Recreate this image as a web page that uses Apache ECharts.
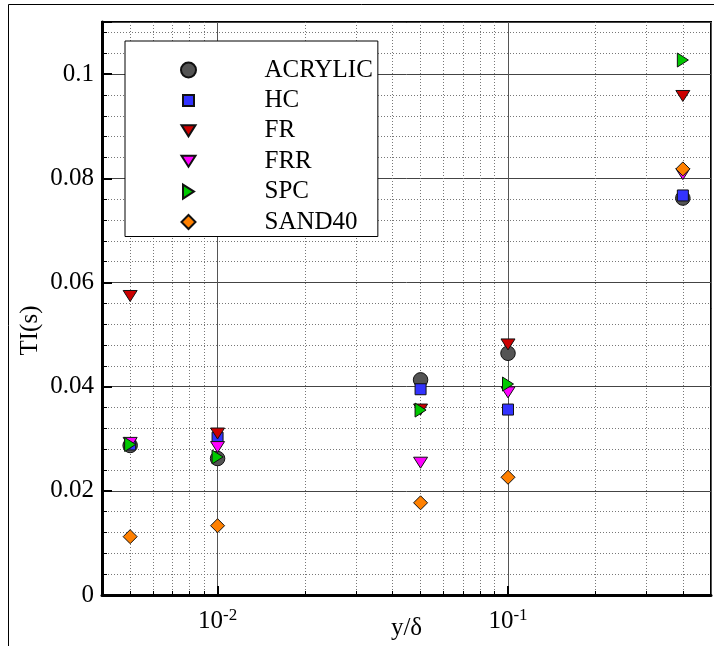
<!DOCTYPE html>
<html>
<head>
<meta charset="utf-8">
<script src="https://cdn.jsdelivr.net/npm/echarts@6/dist/echarts.min.js"></script>
<style>
  html, body { margin: 0; padding: 0; background: #fff; }
  #chart { width: 714px; height: 646px; }
</style>
</head>
<body>
<div id="chart"></div>
<script>
// Wall-normal stations y/δ (shared by every surface)
const yDelta = [0.005, 0.01, 0.05, 0.1, 0.4];

// Turbulence intensity TI(s) per surface
const acrylic = [0.0287, 0.0262, 0.0413, 0.0464, 0.0762];
const hc      = [0.0289, 0.0302, 0.0395, 0.0356, 0.0767];
const fr      = [0.0574, 0.0310, 0.0356, 0.0481, 0.0958];
const frr     = [0.0292, 0.0284, 0.0254, 0.0389, 0.0808];
const spc     = [0.0289, 0.0265, 0.0355, 0.0405, 0.1027];
const sand40  = [0.0112, 0.0133, 0.0177, 0.0226, 0.0818];

const seriesNames = ['ACRYLIC', 'HC', 'FR', 'FRR', 'SPC', 'SAND40'];

// Minor decade positions on the log axis (2..9 × 10^n)
const xMinorTicks = [0.005, 0.006, 0.007, 0.008, 0.009,
                     0.02, 0.03, 0.04, 0.05, 0.06, 0.07, 0.08, 0.09,
                     0.2, 0.3, 0.4];

const FONT = 'Liberation Serif';
const FS = 25;

// Marker shapes drawn inside a common 15×15 frame
const SYM_CIRCLE = 'circle';
const SYM_SQUARE = 'path://M0,0M15,15M2,2H13V13H2Z';
const SYM_TRI_DOWN = 'path://M0,0M15,15M0.5,2H14.5L7.5,13Z';
const SYM_TRI_RIGHT = 'path://M0,0M15,15M2,0.5L13,7.5L2,14.5Z';
const SYM_DIAMOND = 'path://M0,0M15,15M7.5,0.5L14.5,7.5L7.5,14.5L0.5,7.5Z';

const styles = {
  ACRYLIC: { symbol: SYM_CIRCLE,    color: '#545454', size: 14.5 },
  HC:      { symbol: SYM_SQUARE,    color: '#3333ff', size: 15 },
  FR:      { symbol: SYM_TRI_DOWN,  color: '#cc0000', size: 15 },
  FRR:     { symbol: SYM_TRI_DOWN,  color: '#ff00ff', size: 15 },
  SPC:     { symbol: SYM_TRI_RIGHT, color: '#00c800', size: 15 },
  SAND40:  { symbol: SYM_DIAMOND,   color: '#ff8000', size: 15 }
};

const values = { ACRYLIC: acrylic, HC: hc, FR: fr, FRR: frr, SPC: spc, SAND40: sand40 };

function powerLabel(v) {
  const e = Math.round(Math.log10(v));
  if (Math.abs(v / Math.pow(10, e) - 1) > 1e-6) return '';
  return '{b|10}{s|' + e + '}';
}

const chart = echarts.init(document.getElementById('chart'), null, { renderer: 'canvas' });

chart.setOption({
  animation: false,
  backgroundColor: '#fff',
  textStyle: { fontFamily: FONT },
  graphic: [{
    type: 'rect', z: -10, silent: true,
    shape: { x: 8.5, y: 4.5, width: 900, height: 900 },
    style: { fill: 'none', stroke: '#000', lineWidth: 1 }
  }],
  grid: {
    left: 102, right: 3, top: 22, bottom: 51,
    outerBoundsMode: 'none', containLabel: false,
    show: true, borderColor: '#000', borderWidth: 2, backgroundColor: 'transparent'
  },
  legend: {
    orient: 'vertical',
    left: 125, top: 41,
    padding: [16.5, 5, 2, 55],
    itemWidth: 142, itemHeight: 15, itemGap: 5.4,
    backgroundColor: '#fff', borderColor: '#000', borderWidth: 1,
    selectedMode: false,
    textStyle: { fontFamily: FONT, fontSize: FS, color: '#000' },
    data: seriesNames.map(n => ({ name: n, icon: styles[n].symbol }))
  },
  xAxis: [{
    type: 'log', logBase: 10, min: 0.004, max: 0.5,
    name: 'y/δ', nameLocation: 'middle', nameGap: 21, nameMoveOverlap: false,
    nameTextStyle: { fontFamily: FONT, fontSize: FS, color: '#000' },
    axisLine: { show: true, onZero: false, lineStyle: { color: '#000', width: 3 } },
    axisTick: { show: true, inside: true, length: 9, lineStyle: { color: '#000', width: 2 } },
    axisLabel: {
      margin: 12, formatter: powerLabel, showMinLabel: false, showMaxLabel: false,
      fontFamily: FONT,
      rich: {
        b: { fontFamily: FONT, fontSize: FS, color: '#000', lineHeight: 29 },
        s: { fontFamily: FONT, fontSize: 17, color: '#000', verticalAlign: 'top', lineHeight: 17 }
      }
    },
    splitLine: { show: true, lineStyle: { color: '#555', width: 1, type: 'solid' } },
    minorTick: { show: false }, minorSplitLine: { show: false }
  }, {
    // overlay axis carrying the 2..9 decade grid
    type: 'log', logBase: 10, min: 0.004, max: 0.5, position: 'bottom',
    axisLine: { show: false },
    axisTick: { show: true, inside: true, length: 4, customValues: xMinorTicks,
                lineStyle: { color: '#000', width: 1 } },
    axisLabel: { show: false },
    splitLine: { show: true, lineStyle: { color: '#777', width: 1, type: [1, 2] } }
  }],
  yAxis: {
    type: 'value', min: 0, max: 0.11, interval: 0.02,
    name: 'TI(s)', nameLocation: 'middle', nameGap: 59, nameMoveOverlap: false,
    nameTextStyle: { fontFamily: FONT, fontSize: FS, color: '#000', padding: [0, 44, 0, 0] },
    axisLine: { show: true, onZero: false, lineStyle: { color: '#000', width: 3 } },
    axisTick: { show: true, inside: true, length: 10, lineStyle: { color: '#000', width: 2 } },
    minorTick: { show: true, splitNumber: 5, length: 5, lineStyle: { color: '#000', width: 1 } },
    axisLabel: { margin: 8, showMaxLabel: false, fontFamily: FONT, fontSize: FS, color: '#000' },
    splitLine: { show: true, lineStyle: { color: '#444', width: 1 } },
    minorSplitLine: { show: true, lineStyle: { color: '#777', width: 1, type: [1, 2] } }
  },
  series: seriesNames.map(n => ({
    type: 'scatter',
    name: n,
    xAxisIndex: 0, yAxisIndex: 0,
    symbol: styles[n].symbol,
    symbolSize: styles[n].size,
    data: yDelta.map((x, i) => [x, values[n][i]]),
    itemStyle: { color: styles[n].color, borderColor: '#111', borderWidth: 1, opacity: 1 },
    emphasis: { disabled: true }
  }))
});
</script>
</body>
</html>
